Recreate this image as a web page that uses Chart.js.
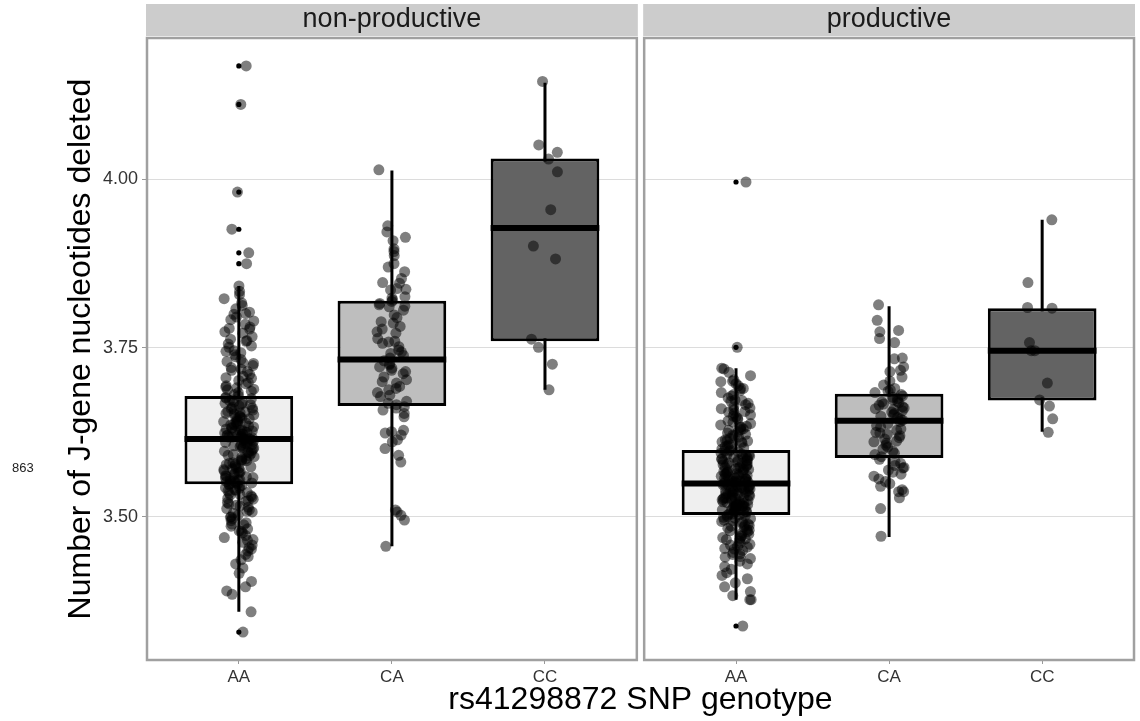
<!DOCTYPE html>
<html>
<head>
<meta charset="utf-8">
<script src="https://cdn.jsdelivr.net/npm/chart.js@4.4.1/dist/chart.umd.min.js"></script>
<style>
  html, body { margin: 0; padding: 0; background: #fff; }
  #wrap { position: relative; width: 1140px; height: 721px; }
  #note { position: absolute; left: 12px; top: 460px; font: 13px 'Liberation Sans', Arial, sans-serif; color: #222; }
</style>
</head>
<body>
<div id="wrap">
  <canvas id="c" width="1140" height="721"></canvas>
  <div id="note">863</div>
</div>
<script>
// ---- data -------------------------------------------------------------
const PANELS = ['non-productive', 'productive'];
const CATEGORIES = ['AA', 'CA', 'CC'];
const Y_TICKS = [3.50, 3.75, 4.00];
const Y_MIN = 3.2876;
const Y_MAX = 4.2094;

// box statistics (AA, CA, CC)
const NONPROD_Q1 = [3.548, 3.664, 3.760];
const NONPROD_MEDIAN = [3.615, 3.733, 3.928];
const NONPROD_Q3 = [3.679, 3.820, 4.031];
const NONPROD_LOW = [3.359, 3.456, 3.688];
const NONPROD_HIGH = [3.842, 4.013, 4.143];

const PROD_Q1 = [3.5025, 3.587, 3.672];
const PROD_MEDIAN = [3.549, 3.642, 3.746];
const PROD_Q3 = [3.599, 3.682, 3.809];
const PROD_LOW = [3.377, 3.470, 3.626];
const PROD_HIGH = [3.720, 3.812, 3.940];

// values beyond the whiskers
const NONPROD_OUTLIERS_AA = [4.168, 4.111, 3.981, 3.926, 3.891, 3.875, 3.329];
const PROD_OUTLIERS_AA = [3.996, 3.751, 3.338];

// individual samples
const NONPROD_AA = [
  4.168, 4.111, 3.981, 3.926, 3.891, 3.875,
  3.842, 3.834, 3.829, 3.823, 3.817, 3.813, 3.808, 3.803, 3.800, 3.796,
  3.792, 3.790, 3.785, 3.781, 3.778, 3.774, 3.772, 3.767, 3.763, 3.761,
  3.756, 3.753, 3.751, 3.746, 3.743, 3.740, 3.737, 3.733, 3.730, 3.728,
  3.724, 3.721, 3.717, 3.715, 3.711, 3.708, 3.706, 3.702, 3.699, 3.697,
  3.694, 3.691, 3.689, 3.686, 3.684, 3.681,
  3.679, 3.677, 3.675, 3.673, 3.670, 3.669, 3.667, 3.664, 3.662, 3.661,
  3.658, 3.656, 3.655, 3.653, 3.651, 3.649, 3.647, 3.646, 3.644, 3.642,
  3.641, 3.639, 3.637, 3.636, 3.634, 3.633, 3.631, 3.630, 3.628, 3.627,
  3.626, 3.625, 3.623, 3.622, 3.621, 3.620, 3.619, 3.618, 3.618, 3.617,
  3.616, 3.616, 3.615, 3.652, 3.645, 3.638, 3.632, 3.629, 3.624, 3.659,
  3.666, 3.672,
  3.614, 3.613, 3.611, 3.610, 3.609, 3.607, 3.606, 3.604, 3.603, 3.601,
  3.600, 3.598, 3.597, 3.595, 3.594, 3.592, 3.591, 3.589, 3.588, 3.586,
  3.585, 3.583, 3.582, 3.580, 3.579, 3.577, 3.576, 3.574, 3.573, 3.571,
  3.570, 3.568, 3.567, 3.565, 3.564, 3.562, 3.561, 3.560, 3.558, 3.557,
  3.556, 3.555, 3.554, 3.553, 3.552, 3.551, 3.550, 3.549, 3.549, 3.548,
  3.612, 3.605,
  3.547, 3.545, 3.543, 3.542, 3.540, 3.538, 3.536, 3.535, 3.533, 3.531,
  3.529, 3.527, 3.526, 3.523, 3.521, 3.519, 3.517, 3.514, 3.512, 3.510,
  3.507, 3.505, 3.502, 3.499, 3.497, 3.494, 3.491, 3.488, 3.486, 3.482,
  3.479, 3.476, 3.472, 3.469, 3.465, 3.462, 3.458, 3.454, 3.449, 3.444,
  3.441, 3.436, 3.430, 3.424, 3.416, 3.404, 3.396, 3.390, 3.385, 3.359,
  3.329,
  3.705, 3.692, 3.688, 3.676, 3.668, 3.660, 3.654, 3.648, 3.640, 3.635,
  3.627, 3.620, 3.613, 3.608, 3.602, 3.596, 3.590, 3.584, 3.578, 3.572,
  3.566, 3.559, 3.553, 3.546, 3.539, 3.532, 3.524, 3.516, 3.508, 3.500,
  3.489, 3.478, 3.466, 3.452, 3.760, 3.745, 3.727, 3.719, 3.779, 3.801
];
const NONPROD_CA = [
  4.014, 3.931, 3.922, 3.914, 3.909, 3.897, 3.893, 3.887, 3.875, 3.870,
  3.863, 3.853, 3.847, 3.846, 3.838, 3.837, 3.836, 3.826, 3.824, 3.821,
  3.819, 3.816, 3.814, 3.811, 3.806, 3.799, 3.789, 3.787, 3.782, 3.774,
  3.772, 3.764, 3.759, 3.757, 3.752, 3.747, 3.744, 3.742, 3.735, 3.727,
  3.725, 3.722, 3.720, 3.717, 3.715, 3.707, 3.703, 3.698, 3.693, 3.690,
  3.688, 3.680, 3.678, 3.668, 3.666, 3.663, 3.661, 3.658, 3.653, 3.648,
  3.628, 3.626, 3.624, 3.621, 3.614, 3.611, 3.601, 3.591, 3.581, 3.510,
  3.507, 3.502, 3.495, 3.456, 3.812, 3.795, 3.778, 3.760, 3.739, 3.731,
  3.712, 3.700, 3.684, 3.671
];
const NONPROD_CC = [4.145, 4.051, 4.040, 4.030, 4.011, 3.955, 3.901, 3.882, 3.763, 3.751, 3.726, 3.688];

const PROD_AA = [
  3.996, 3.751,
  3.720, 3.719, 3.714, 3.709, 3.703, 3.700, 3.697, 3.694, 3.690, 3.687,
  3.684, 3.681, 3.679, 3.676, 3.673, 3.671, 3.668, 3.666, 3.663, 3.661,
  3.658, 3.656, 3.653, 3.651, 3.649, 3.646, 3.644, 3.642, 3.640, 3.638,
  3.636, 3.634, 3.632, 3.630, 3.628, 3.626, 3.624, 3.622, 3.620, 3.618,
  3.616, 3.614, 3.612, 3.611, 3.609, 3.607, 3.605, 3.604, 3.602, 3.600,
  3.599, 3.597, 3.596, 3.594, 3.593, 3.591, 3.590, 3.588, 3.587, 3.585,
  3.584, 3.583, 3.581, 3.580, 3.578, 3.577, 3.576, 3.574, 3.573, 3.572,
  3.570, 3.569, 3.568, 3.566, 3.565, 3.564, 3.563, 3.561, 3.560, 3.559,
  3.558, 3.557, 3.556, 3.555, 3.554, 3.553, 3.552, 3.551, 3.550, 3.550,
  3.549, 3.592, 3.586, 3.579, 3.571, 3.567, 3.562, 3.556, 3.553, 3.551,
  3.589, 3.575,
  3.548, 3.547, 3.546, 3.544, 3.544, 3.543, 3.541, 3.541, 3.540, 3.538,
  3.538, 3.537, 3.535, 3.535, 3.534, 3.532, 3.532, 3.531, 3.530, 3.528,
  3.528, 3.527, 3.525, 3.525, 3.524, 3.522, 3.522, 3.521, 3.519, 3.519,
  3.518, 3.516, 3.516, 3.515, 3.513, 3.513, 3.512, 3.510, 3.510, 3.509,
  3.507, 3.507, 3.506, 3.504, 3.504, 3.503, 3.545, 3.537, 3.529, 3.521,
  3.515, 3.509,
  3.502, 3.500, 3.498, 3.497, 3.495, 3.493, 3.491, 3.489, 3.487, 3.485,
  3.483, 3.481, 3.479, 3.476, 3.474, 3.472, 3.469, 3.467, 3.464, 3.461,
  3.459, 3.456, 3.453, 3.450, 3.447, 3.444, 3.441, 3.438, 3.434, 3.430,
  3.426, 3.422, 3.417, 3.413, 3.408, 3.402, 3.396, 3.389, 3.383, 3.377,
  3.377, 3.338, 3.499, 3.492, 3.486, 3.480, 3.471, 3.466, 3.458, 3.452,
  3.445,
  3.690, 3.672, 3.660, 3.648, 3.633, 3.621, 3.613, 3.606, 3.598, 3.591,
  3.584, 3.577, 3.570, 3.563, 3.557, 3.552, 3.546, 3.540, 3.534, 3.527,
  3.520, 3.514, 3.508, 3.501, 3.494, 3.487, 3.478, 3.468, 3.455, 3.440,
  3.582, 3.565, 3.536, 3.517, 3.611, 3.629, 3.655, 3.701, 3.543, 3.526
];
const PROD_CA = [
  3.814, 3.791, 3.776, 3.774, 3.764, 3.758, 3.735, 3.734, 3.722, 3.717,
  3.715, 3.707, 3.701, 3.695, 3.690, 3.688, 3.686, 3.684,
  3.681, 3.679, 3.677, 3.675, 3.673, 3.671, 3.669, 3.667, 3.665, 3.663,
  3.661, 3.659, 3.657, 3.655, 3.653, 3.651, 3.649, 3.647, 3.645, 3.643,
  3.670, 3.660,
  3.641, 3.638, 3.635, 3.633, 3.630, 3.628, 3.625, 3.622, 3.620, 3.617,
  3.615, 3.612, 3.609, 3.606, 3.603, 3.600, 3.597, 3.594, 3.592, 3.589,
  3.624, 3.611,
  3.585, 3.582, 3.579, 3.576, 3.573, 3.572, 3.569, 3.566, 3.563, 3.560,
  3.556, 3.552, 3.549, 3.545, 3.540, 3.537, 3.537, 3.528, 3.512, 3.471
];
const PROD_CC = [3.940, 3.847, 3.810, 3.809, 3.758, 3.746, 3.746, 3.698, 3.673, 3.664, 3.645, 3.625];

// ---- styling & layout constants --------------------------------------
const FONT = "'Liberation Sans', Arial, sans-serif";
const BOX_FILLS = ['#efefef', '#bebebe', '#636363'];
const PANEL_SPAN = 3.2;     // 3 categories plus 0.6 expansion on each side
const PANEL_GAP = 0.048;    // spacing between the two facets, in category units
const BOX_WIDTH = 0.71;
const JITTER = 0.1;

const panelOffset = p => p * (PANEL_SPAN + PANEL_GAP);

// deterministic horizontal spread so the dots land in the same place every render
function spread(i, group) {
  const s = Math.sin((i + 1) * 12.9898 + (group + 1) * 78.233) * 43758.5453;
  return (s - Math.floor(s) - 0.5) * 2 * JITTER;
}

const facets = [
  { q1: NONPROD_Q1, med: NONPROD_MEDIAN, q3: NONPROD_Q3, lo: NONPROD_LOW, hi: NONPROD_HIGH,
    samples: [NONPROD_AA, NONPROD_CA, NONPROD_CC], outliers: [NONPROD_OUTLIERS_AA, [], []] },
  { q1: PROD_Q1, med: PROD_MEDIAN, q3: PROD_Q3, lo: PROD_LOW, hi: PROD_HIGH,
    samples: [PROD_AA, PROD_CA, PROD_CC], outliers: [PROD_OUTLIERS_AA, [], []] }
];

const boxes = [], boxFill = [], whiskers = [], medians = [], dots = [], outlierDots = [];
const tickPositions = [], tickLabels = [];
facets.forEach((f, p) => {
  CATEGORIES.forEach((cat, c) => {
    const x = 1 + c + panelOffset(p);
    tickPositions.push(x);
    tickLabels.push(cat);
    boxes.push({ x, y: [f.q1[c], f.q3[c]] });
    boxFill.push(BOX_FILLS[c]);
    whiskers.push({ x, y: f.lo[c] }, { x, y: f.hi[c] }, { x, y: null });
    medians.push({ x: x - BOX_WIDTH / 2, y: f.med[c] }, { x: x + BOX_WIDTH / 2, y: f.med[c] }, { x, y: null });
    f.outliers[c].forEach(v => outlierDots.push({ x, y: v }));
    f.samples[c].forEach((v, i) => dots.push({ x: x + spread(i, p * 3 + c), y: v }));
  });
});

// ---- facet frames and strip labels -----------------------------------
const facetPlugin = {
  id: 'facets',
  beforeDatasetsDraw(chart) {
    const { ctx, chartArea: a, scales: { x } } = chart;
    const l = x.getPixelForValue(0.4 + PANEL_SPAN);
    const r = x.getPixelForValue(0.4 + panelOffset(1));
    ctx.save();
    ctx.fillStyle = '#ffffff';
    ctx.fillRect(l, a.top - 2, r - l, a.bottom - a.top + 4);
    ctx.restore();
  },
  afterDatasetsDraw(chart) {
    const { ctx, chartArea: a, scales: { x } } = chart;
    ctx.save();
    PANELS.forEach((name, p) => {
      const l = x.getPixelForValue(0.4 + panelOffset(p));
      const r = x.getPixelForValue(0.4 + PANEL_SPAN + panelOffset(p));
      ctx.fillStyle = '#cccccc';
      ctx.fillRect(l - 1, 4, r - l + 2, a.top - 6);
      ctx.fillStyle = '#1a1a1a';
      ctx.font = '27px ' + FONT;
      ctx.textAlign = 'center';
      ctx.textBaseline = 'middle';
      ctx.fillText(name, (l + r) / 2, 20);
      ctx.strokeStyle = '#a0a0a0';
      ctx.lineWidth = 2.5;
      ctx.strokeRect(l, a.top, r - l, a.bottom - a.top);
    });
    ctx.restore();
  }
};

new Chart(document.getElementById('c'), {
  type: 'bar',
  data: {
    datasets: [
      { type: 'scatter', label: 'samples', data: dots, pointRadius: 5.5, pointHoverRadius: 5.5,
        backgroundColor: 'rgba(0,0,0,0.5)', borderWidth: 0, order: 0 },
      { type: 'scatter', label: 'outliers', data: outlierDots, pointRadius: 2.6, pointHoverRadius: 2.6,
        backgroundColor: '#000000', borderWidth: 0, order: 1 },
      { type: 'line', label: 'median', data: medians, borderColor: '#000000', borderWidth: 6,
        borderCapStyle: 'butt', pointRadius: 0, spanGaps: false, fill: false, order: 2 },
      { type: 'bar', label: 'interquartile range', data: boxes, backgroundColor: boxFill,
        borderColor: '#000000', borderWidth: 3, borderSkipped: false,
        barPercentage: BOX_WIDTH, categoryPercentage: 1, order: 3 },
      { type: 'line', label: 'whiskers', data: whiskers, borderColor: '#000000', borderWidth: 3,
        pointRadius: 0, spanGaps: false, fill: false, order: 4 }
    ]
  },
  plugins: [facetPlugin],
  options: {
    responsive: false,
    animation: false,
    devicePixelRatio: 1,
    events: [],
    layout: { padding: { left: 0, right: 6, top: 38, bottom: 0 } },
    plugins: { legend: { display: false }, tooltip: { enabled: false } },
    scales: {
      x: {
        type: 'linear',
        min: 0.4,
        max: 0.4 + 2 * PANEL_SPAN + PANEL_GAP,
        offset: false,
        afterBuildTicks: s => { s.ticks = tickPositions.map(v => ({ value: v })); },
        afterFit: s => { s.height = 61; },
        grid: { drawOnChartArea: false, drawTicks: true, tickLength: 4, tickColor: '#999999', offset: false },
        border: { display: false },
        ticks: {
          autoSkip: false, maxRotation: 0, padding: 3, color: '#333333',
          font: { family: FONT, size: 17 },
          callback: (v, i) => tickLabels[i]
        },
        title: {
          display: true, text: 'rs41298872 SNP genotype', color: '#000000',
          font: { family: FONT, size: 32 }, padding: { top: 0, bottom: 2 }
        }
      },
      y: {
        type: 'linear',
        min: Y_MIN,
        max: Y_MAX,
        afterBuildTicks: s => { s.ticks = Y_TICKS.map(v => ({ value: v })); },
        afterFit: s => { s.width = 147; },
        grid: { color: '#dcdcdc', lineWidth: 1, tickColor: '#999999', tickLength: 5 },
        border: { display: false },
        ticks: {
          padding: 4, color: '#333333', font: { family: FONT, size: 18 },
          callback: v => v.toFixed(2)
        },
        title: {
          display: true, text: 'Number of J-gene nucleotides deleted', color: '#000000',
          font: { family: FONT, size: 32 }, padding: { top: 62, bottom: 0 }
        }
      }
    }
  }
});
</script>
</body>
</html>
